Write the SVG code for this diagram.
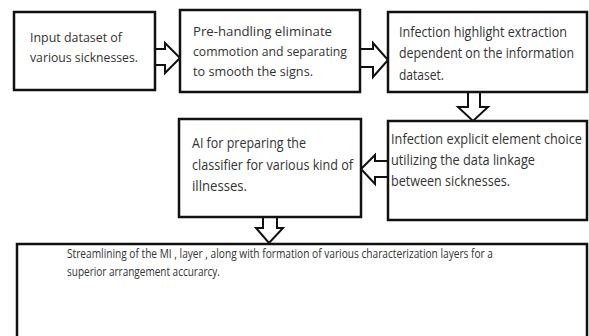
<svg xmlns="http://www.w3.org/2000/svg" width="589" height="336" viewBox="0 0 589 336">
<style>
.box{fill:#fff;stroke:#111;stroke-width:2.5}
.arr{fill:#fff;stroke:#111;stroke-width:2;stroke-linejoin:miter}
text{font-family:"Open Sans","Noto Sans",sans-serif;fill:#333;font-size:13px}
.s{font-size:13px}
.l{font-size:14px}
</style>
<rect width="589" height="336" fill="#fff"/>
<g id="connectors">
<polygon class="arr" points="155,49 165,49 165,43 180,58 165,73 165,65 155,65"/>
<polygon class="arr" points="360,49 373,49 373,43 388,60 373,77 373,67 360,67"/>
<polygon class="arr" points="468,92 480,92 480,107 488,107 473,121 458,107 468,107"/>
<polygon class="arr" points="388,161 375,161 375,155 361,169 375,184 375,177 388,177"/>
<polygon class="arr" points="263,217 277,217 277,228 283,228 269,243 256,228 263,228"/>
</g>
<g id="n1">
<rect class="box" x="14" y="12" width="141" height="78"/>
<text x="30" y="42" textLength="92" lengthAdjust="spacingAndGlyphs">Input dataset of</text>
<text x="30" y="62" textLength="108" lengthAdjust="spacingAndGlyphs">various sicknesses.</text>
</g>
<g id="n2">
<rect class="box" x="180" y="10" width="180" height="82"/>
<text x="193" y="36" textLength="139" lengthAdjust="spacingAndGlyphs">Pre-handling eliminate</text>
<text x="193" y="56" textLength="154" lengthAdjust="spacingAndGlyphs">commotion and separating</text>
<text x="193" y="76" textLength="120" lengthAdjust="spacingAndGlyphs">to smooth the signs.</text>
</g>
<g id="n3">
<rect class="box" x="388" y="12" width="199" height="80"/>
<text class="l" x="399" y="37" textLength="168" lengthAdjust="spacingAndGlyphs">Infection highlight extraction</text>
<text class="l" x="399" y="58" textLength="175" lengthAdjust="spacingAndGlyphs">dependent on the information</text>
<text class="l" x="399" y="80" textLength="45" lengthAdjust="spacingAndGlyphs">dataset.</text>
</g>
<g id="n4">
<rect class="box" x="388" y="121" width="199" height="99"/>
<text class="l" x="391" y="144" textLength="191" lengthAdjust="spacingAndGlyphs">Infection explicit element choice</text>
<text class="l" x="391" y="165" textLength="144" lengthAdjust="spacingAndGlyphs">utilizing the data linkage</text>
<text class="l" x="391" y="186" textLength="119" lengthAdjust="spacingAndGlyphs">between sicknesses.</text>
</g>
<g id="n5">
<rect class="box" x="179" y="119" width="182" height="98"/>
<text class="l" x="192" y="148" textLength="114" lengthAdjust="spacingAndGlyphs">AI for preparing the</text>
<text class="l" x="192" y="170" textLength="161" lengthAdjust="spacingAndGlyphs">classifier for various kind of</text>
<text class="l" x="192" y="191" textLength="55" lengthAdjust="spacingAndGlyphs">illnesses.</text>
</g>
<g id="n6">
<rect class="box" x="17" y="244" width="570" height="100"/>
<text class="s" x="67" y="258" textLength="426" lengthAdjust="spacingAndGlyphs">Streamlining of the MI , layer , along with formation of various characterization layers for a</text>
<text class="s" x="67" y="276" textLength="153" lengthAdjust="spacingAndGlyphs">superior arrangement accurarcy.</text>
</g>
</svg>
